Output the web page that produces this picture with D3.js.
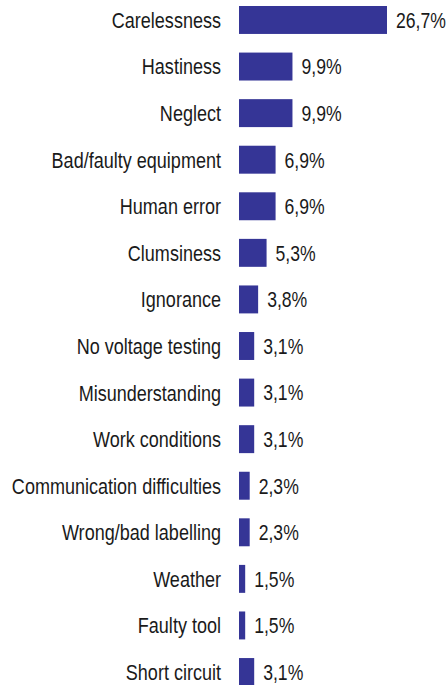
<!DOCTYPE html>
<html>
<head>
<meta charset="utf-8">
<script src="https://cdn.jsdelivr.net/npm/d3@7"></script>
<style>
  body { margin: 0; background: #fff; }
  svg text { font-family: "Liberation Sans Narrow", "Arial Narrow", "Liberation Sans", sans-serif; fill: #1a1a1a; }
</style>
</head>
<body>
<div id="chart"></div>
<script>
const categories = ["Carelessness", "Hastiness", "Neglect", "Bad/faulty equipment", "Human error",
    "Clumsiness", "Ignorance", "No voltage testing", "Misunderstanding", "Work conditions",
    "Communication difficulties", "Wrong/bad labelling", "Weather", "Faulty tool", "Short circuit"];
const values = [26.7, 9.9, 9.9, 6.9, 6.9, 5.3, 3.8, 3.1, 3.1, 3.1, 2.3, 2.3, 1.5, 1.5, 3.1];
const valueLabels = ["26,7%", "9,9%", "9,9%", "6,9%", "6,9%", "5,3%", "3,8%", "3,1%", "3,1%", "3,1%",
    "2,3%", "2,3%", "1,5%", "1,5%", "3,1%"];

const svgWidth = 446;
const svgHeight = 685;
const left = 239;

const svg = d3.select("#chart")
    .append("svg")
    .attr("width", svgWidth)
    .attr("height", svgHeight);

const x = d3.scaleLinear().domain([0.4, 26.7]).range([0, 148]);
const y = d3.scaleBand().domain(categories).range([6, 686]).paddingInner(0.4).paddingOuter(0);

// narrow look: Liberation Sans squeezed horizontally
const squeeze = 0.82;
const valSqueeze = 0.8;

const g = svg.append("g").attr("transform", `translate(${left},0)`);

g.selectAll("rect").data(categories).enter().append("rect")
    .attr("x", 0)
    .attr("y", d => y(d))
    .attr("width", (d, i) => x(values[i]))
    .attr("height", y.bandwidth())
    .attr("fill", "#353596");

g.selectAll(".cat").data(categories).enter().append("text")
    .attr("class", "cat")
    .attr("transform", d => `translate(-18,${y(d) + y.bandwidth() / 2}) scale(${squeeze},1)`)
    .attr("dy", "0.36em")
    .attr("text-anchor", "end")
    .attr("font-size", 22)
    .text(d => d);

g.selectAll(".val").data(categories).enter().append("text")
    .attr("class", "val")
    .attr("transform", (d, i) => `translate(${x(values[i]) + 9},${y(d) + y.bandwidth() / 2}) scale(${valSqueeze},1)`)
    .attr("dy", "0.36em")
    .attr("font-size", 22)
    .text((d, i) => valueLabels[i]);
</script>
</body>
</html>
